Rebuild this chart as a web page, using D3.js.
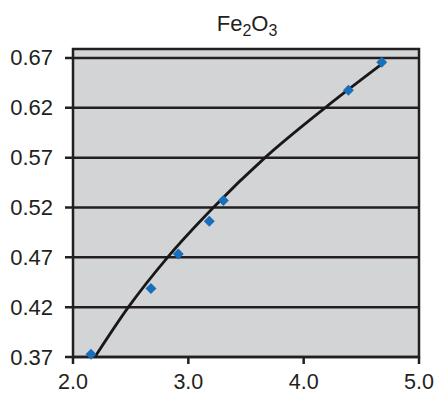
<!DOCTYPE html>
<html lang="en">
<head>
  <meta charset="UTF-8">
  <title>Fe2O3</title>
  <script src="https://d3js.org/d3.v7.min.js"></script>
  <style>
    body { margin: 0; padding: 0; overflow: hidden; background: #fff; }
    text { font-family: "Liberation Sans", Arial, sans-serif; fill: #231f20; }
  </style>
</head>
<body>
  <svg id="chart" width="437" height="395"></svg>

  <script>
    // Data
    const xTicks = [2.0, 3.0, 4.0, 5.0];
    const yTicks = [0.37, 0.42, 0.47, 0.52, 0.57, 0.62, 0.67];

    // measured points
    const pointX = [2.156, 2.676, 2.913, 3.182, 3.304, 4.388, 4.677];
    const pointY = [0.3727, 0.4388, 0.4733, 0.5062, 0.527, 0.6376, 0.6658];

    // fitted curve
    const curveX = [2.19, 2.48, 2.82, 3.217, 3.665, 4.186, 4.68];
    const curveY = [0.37, 0.42, 0.47, 0.52, 0.57, 0.62, 0.664];

    const svg = d3.select("#chart");
    const plotL = 73, plotR = 419, plotT = 49, plotB = 357;

    const x = d3.scaleLinear().domain([2, 5]).range([plotL, plotR]);
    const y = d3.scaleLinear().domain([0.37, 0.679]).range([plotB, plotT]);

    // Plot background
    svg.append("rect")
      .attr("x", plotL).attr("y", plotT)
      .attr("width", plotR - plotL).attr("height", plotB - plotT)
      .attr("fill", "#d3d4d6");

    // Grid lines
    svg.append("g")
      .selectAll("line")
      .data(yTicks)
      .join("line")
      .attr("x1", plotL - 8)
      .attr("x2", plotR)
      .attr("y1", d => y(d))
      .attr("y2", d => y(d))
      .attr("stroke", "#231f20")
      .attr("stroke-width", 2.5);

    // x tick marks
    svg.append("g")
      .selectAll("line")
      .data(xTicks)
      .join("line")
      .attr("x1", d => x(d))
      .attr("x2", d => x(d))
      .attr("y1", plotB)
      .attr("y2", plotB + 7)
      .attr("stroke", "#231f20")
      .attr("stroke-width", 2.5);

    // frame
    svg.append("rect")
      .attr("x", plotL).attr("y", plotT)
      .attr("width", plotR - plotL).attr("height", plotB - plotT)
      .attr("fill", "none")
      .attr("stroke", "#231f20")
      .attr("stroke-width", 2.5);

    // Tick labels
    svg.append("g")
      .selectAll("text")
      .data(yTicks)
      .join("text")
      .attr("x", plotL - 20)
      .attr("y", d => y(d) + 7.5)
      .attr("text-anchor", "end")
      .attr("font-size", 22)
      .text(d => d.toFixed(2));

    svg.append("g")
      .selectAll("text")
      .data(xTicks)
      .join("text")
      .attr("x", d => Math.min(x(d), 419))
      .attr("y", 389)
      .attr("text-anchor", "middle")
      .attr("font-size", 21.5)
      .text(d => d.toFixed(1));

    // Title with subscripts
    const title = svg.append("text")
      .attr("x", 247)
      .attr("y", 31)
      .attr("text-anchor", "middle")
      .attr("font-size", 22);
    title.append("tspan").text("Fe");
    title.append("tspan").attr("dy", 5).attr("font-size", 16).text("2");
    title.append("tspan").attr("dy", -5).text("O");
    title.append("tspan").attr("dy", 5).attr("font-size", 16).text("3");

    // Fitted curve
    const curve = d3.zip(curveX, curveY);
    svg.append("path")
      .datum(curve)
      .attr("fill", "none")
      .attr("stroke", "#1a1718")
      .attr("stroke-width", 2.8)
      .attr("d", d3.line()
        .x(d => x(d[0]))
        .y(d => y(d[1]))
        .curve(d3.curveMonotoneX));

    // Points (diamonds)
    svg.append("g")
      .selectAll("path")
      .data(d3.zip(pointX, pointY))
      .join("path")
      .attr("d", d3.symbol(d3.symbolSquare, 60))
      .attr("transform", d => `translate(${x(d[0])},${y(d[1])}) rotate(45)`)
      .attr("fill", "#1a6fba");
  </script>
</body>
</html>
